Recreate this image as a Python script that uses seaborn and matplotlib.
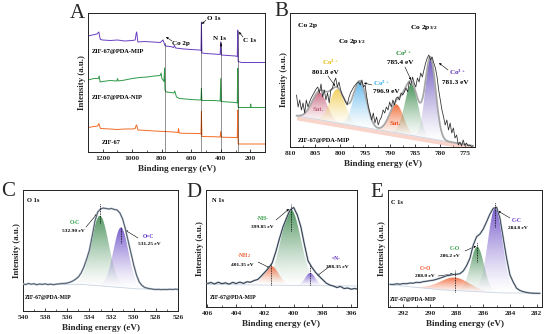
import numpy as np
import matplotlib
matplotlib.use('Agg')
import matplotlib.pyplot as plt
import matplotlib.colors as mcolors
from matplotlib.ticker import MultipleLocator
import seaborn as sns

# ---------- DATA ----------
# A: survey spectra
mip_e = [1300, 1270, 1240, 1226, 1222, 1216, 1200, 1150, 1100, 1050, 1000, 980, 974, 970, 962, 920, 860, 810,
         792, 786, 780, 774, 740, 720, 714, 706, 650, 600, 545, 534, 531, 528, 500, 450, 404, 400, 396, 350,
         300, 288, 285, 282, 260, 200, 100]
mip_i = [116, 117, 118, 120, 116, 112.5, 112, 111.5, 112, 111, 111.5, 112, 118, 120, 110, 110.5, 110, 109.5,
         112, 110, 107, 106, 105.5, 104.5, 106.5, 104, 103, 102.5, 102, 101.5, 130, 99, 98.5, 98, 97.5, 110,
         97, 96.5, 96, 95.5, 122, 90.5, 89.5, 89.5, 89.5]
nip_e = [1300, 1260, 1230, 1224, 1218, 1200, 1150, 1105, 1100, 1095, 1050, 1000, 950, 900, 850, 810, 804,
         800, 796, 785, 781, 778, 770, 740, 718, 712, 700, 680, 600, 545, 534, 531, 528, 450, 404, 400, 397,
         350, 300, 288, 285, 282, 250, 200, 197, 194, 150, 100]
nip_i = [72, 73.5, 73.5, 76, 70, 70.5, 71.5, 71, 73.5, 71, 72, 73.5, 74.5, 75, 76, 76.5, 79, 74, 73, 70.5,
         84, 62, 60, 59.5, 59, 61, 55, 53.5, 52.5, 52, 52, 63.5, 51.5, 51.5, 51, 73.5, 50.5, 50, 49.5, 49,
         83.5, 44.5, 44.5, 44.5, 48, 44.5, 44.5, 44.5]
zif_e = [1300, 1260, 1235, 1226, 1222, 1215, 1150, 1100, 1050, 1000, 980, 974, 970, 962, 900, 850, 780, 720,
         690, 686, 682, 650, 545, 534, 531, 528, 450, 404, 400, 396, 300, 288, 285, 282, 200, 100]
zif_i = [24.5, 25.5, 26, 28.5, 26, 23.5, 23, 22.5, 23, 23, 23.5, 26.5, 27, 22, 21.5, 21, 20.5, 20, 19.5,
         23.5, 19, 18.7, 18.5, 18, 40.5, 15.5, 15.3, 15, 20.5, 14.8, 14.5, 14.3, 42, 8, 8, 8]
survey_lines = [780, 531, 400, 285]
survey_tops = [110, 130, 110, 122]

# B: Co 2p
co_counts = [52, 40, 47, 37, 44, 34, 47, 40, 45, 49, 52, 55, 58, 60, 54, 63, 50, 57, 47, 54, 44, 57, 59,
             65, 69, 60, 65, 57, 52, 49, 45, 42, 49, 54, 57, 60, 62, 64, 65, 62, 67, 60, 62, 50, 40, 34,
             27, 34, 24, 30, 22, 27, 30, 37, 34, 40, 37, 45, 40, 47, 42, 49, 50, 47, 54, 52, 55, 59, 55,
             65, 62, 70, 64, 60, 69, 65, 74, 70, 77, 84, 89, 92, 87, 90, 84, 79, 70, 57, 47, 37, 30, 22,
             27, 17, 24, 14, 19, 9, 12, 2, 5, 1, 7, 1.5, 4, 1, 2, 0.5, 1]
co_bg_e = [773.0, 810.0]
co_bg_i = [0.8, 32.2]
co_cen = [804.1, 800.5, 796.0, 788.7, 785.7, 781.9]
co_amp = [27.5, 33.8, 45.5, 28.5, 51.0, 80.7]
co_sig = [1.5, 1.5, 1.3, 1.4, 1.35, 1.05]
co_col = ['#c8607a', '#f2cc50', '#4fb0ea', '#f0622a', '#3a8a4a', '#6048b8']

# C: O 1s
o_counts = [27, 26.5, 27.5, 26.8, 27.3, 26.2, 27, 26.6, 27.2, 26.4, 26.9, 26.3, 26.8, 27.1, 27.4, 27.6, 28,
            28.8, 30, 31.8, 34, 38, 44, 52, 61, 75, 90, 99, 102, 103, 102.5, 102, 102.5,
            101.5, 101, 98, 92, 82, 70, 58, 46, 36, 29, 25.5, 23.5, 22.8, 22.2, 21.8, 21.5,
            21.7, 21.3, 21.6, 21.4, 21.8, 21.5, 21.9, 21.6]
o_bg_e = [526, 529.5, 534.5, 540]
o_bg_i = [21.5, 22, 26.5, 27]
o_cen = [533.05, 531.15]
o_amp = [70, 60]
o_sig = [0.8, 0.68]
o_col = ['#3e8a50', '#6a4cc8']
o_dash = [(107, 88), (84, 68)]

# D: N 1s
n_counts = [23.5, 24.5, 23, 24.8, 23.3, 24.2, 22.8, 24.6, 23.5, 24.9, 23.6, 25.2, 24.8, 26.5, 27.5, 31, 35,
            39, 44, 55, 68, 80, 89, 97, 99.5, 92, 80, 62, 46, 40, 35, 31, 27.5, 24, 22, 21, 19.5, 20.5,
            18.5, 19, 17.8, 18.5, 17.5]
n_bg_e = [395.5, 406]
n_bg_i = [21, 22.5]
n_cen = [400.2, 401.55, 398.85]
n_amp = [76, 19, 12.5]
n_sig = [0.7, 0.5, 0.35]
n_col = ['#3e8a50', '#f06030', '#7050d0']
n_dash = [(103, 76), (43, 22), (42, 22)]

# E: C 1s
c_counts = [22.7, 22.5, 23.2, 22.8, 23.4, 23.2, 24, 23.8, 24.7, 24.5, 25.3, 25.8, 26.3, 26.8, 27.7, 28.8,
            30, 31.2, 31.7, 32.5, 32.7, 33.3, 36, 41.3, 48.7, 62, 70.3, 73, 78, 85.3, 93, 98.7, 99.7,
            88.7, 68.7, 48.7, 32, 24.7, 18.7, 16.5, 15.3, 14.6, 14, 13.8, 13.7, 13.7]
c_bg_e = [281.6, 284.5, 289, 293.2]
c_bg_i = [13.7, 14, 17, 22.5]
c_cen = [285.1, 286.45, 288.15]
c_amp = [85, 45, 13]
c_sig = [0.55, 0.5, 1.1]
c_col = ['#6a4cc8', '#3e8a50', '#f06030']
c_dash = [(105, 80), (65, 45), (37, 15)]

# ---------- STYLE ----------
sns.set_style('ticks')
plt.rcParams['font.family'] = ['Liberation Serif', 'DejaVu Serif']
plt.rcParams['font.weight'] = 'bold'
plt.rcParams['axes.labelweight'] = 'bold'
plt.rcParams['mathtext.fontset'] = 'custom'
plt.rcParams['mathtext.rm'] = 'Liberation Serif:bold'
plt.rcParams['mathtext.default'] = 'rm'

W, H = 550, 334
fig = plt.figure(figsize=(5.5, 3.34), dpi=100)

GREEN, PURPLE, ORANGE = '#2a9a40', '#5a30c0', '#f05020'


def rect(l, t, r, b):
    return [l / W, 1 - b / H, (r - l) / W, (b - t) / H]


def ftxt(x, y, s, size=4.5, color='black', ha='left', **kw):
    fig.text(x / W, 1 - y / H, s, fontsize=size, color=color, ha=ha, va='center', fontweight='bold', **kw)


def arrow(ax, x0, y0, x1, y1):
    ax.annotate('', xy=(x1, H - y1), xytext=(x0, H - y0), xycoords='figure pixels',
                textcoords='figure pixels',
                arrowprops=dict(arrowstyle='-|>', lw=0.4, color='black', mutation_scale=3,
                                shrinkA=0, shrinkB=0))


def grad_fill(ax, x, lo, hi, color, z=2):
    poly = ax.fill_between(x, lo, hi, facecolor='none', edgecolor='none')
    img = np.zeros((80, 1, 4))
    img[..., :3] = mcolors.to_rgb(color)
    img[..., 3] = (np.linspace(0, 1, 80) ** 1.3 * 0.9)[:, None]
    im = ax.imshow(img, extent=[x.min(), x.max(), lo.min(), hi.max()], origin='lower',
                   aspect='auto', zorder=z, interpolation='bilinear')
    im.set_clip_path(poly.get_paths()[0], poly.get_transform())


def style(ax, xlim, ylim, major, minor):
    ax.set_xlim(*xlim)
    ax.set_ylim(*ylim)
    ax.set_yticks([])
    ax.xaxis.set_major_locator(MultipleLocator(major))
    ax.xaxis.set_minor_locator(MultipleLocator(minor))
    ax.tick_params(axis='x', which='major', direction='in', length=2.2, width=0.6, labelsize=5.4, pad=3)
    ax.tick_params(axis='x', which='minor', direction='in', length=1.2, width=0.5)
    for lab in ax.get_xticklabels():
        lab.set_fontweight('bold')
    for sp in ax.spines.values():
        sp.set_linewidth(0.7)
        sp.set_color('#222222')
    ax.set_xlabel('Binding energy (eV)', fontsize=6.6, labelpad=2.5)
    ax.set_ylabel('Intensity (a.u.)', fontsize=6.4, labelpad=1.5)


def fit_panel(ax, e_counts, counts, bg_e, bg_i, cen, amp, sig, cols, raw_col, env_col, env_from_fit=False):
    grid = np.linspace(min(e_counts), max(e_counts), 600)
    bg = np.interp(grid, bg_e, bg_i)
    total = bg.copy()
    for c, a, s, col in zip(cen, amp, sig, cols):
        comp = a * np.exp(-(grid - c) ** 2 / (2 * s ** 2))
        total += comp
        m = comp > 0.2
        grad_fill(ax, grid[m], bg[m], bg[m] + comp[m], col)
    sns.lineplot(x=grid, y=bg, ax=ax, color='#c9d4e2', lw=0.6, sort=False, estimator=None, zorder=3)
    if env_from_fit:
        sns.lineplot(x=grid, y=total, ax=ax, color=env_col, lw=1.3, sort=False, estimator=None, zorder=4)
    else:
        sns.lineplot(x=e_counts, y=counts, ax=ax, color=env_col, lw=1.4, sort=False, estimator=None, zorder=4)
    sns.lineplot(x=e_counts, y=counts, ax=ax, color=raw_col, lw=0.55, sort=False, estimator=None, zorder=5)
    return grid, bg


# ---------- A: survey ----------
axA = fig.add_axes(rect(88, 13, 265, 152))
for e, i, col in [(mip_e, mip_i, '#6a3fc0'), (nip_e, nip_i, '#2e9a48'), (zif_e, zif_i, '#f26b22')]:
    sns.lineplot(x=e, y=i, ax=axA, color=col, lw=0.7, sort=False, estimator=None)
axA.vlines(survey_lines, 0, survey_tops, colors='black', linestyles=(0, (1.2, 1.2)), lw=0.6, zorder=5)
style(axA, (1300, 100), (0, 139), 200, 100)
ftxt(92, 52, 'ZIF-67@PDA-MIP', 4.6)
ftxt(92, 97, 'ZIF-67@PDA-NIP', 4.6)
ftxt(102, 142, 'ZIF-67', 4.6)
ftxt(172, 44, 'Co 2p', 5)
ftxt(207, 19, 'O 1s', 5)
ftxt(213, 38, 'N 1s', 5)
ftxt(243, 41, 'C 1s', 5)
arrow(axA, 172, 41, 166, 37)
arrow(axA, 206, 20, 202, 24)
arrow(axA, 221, 42, 221, 47)
arrow(axA, 243, 37, 239, 32)

# ---------- B: Co 2p ----------
axB = fig.add_axes(rect(290, 13, 475, 147))
co_e = np.linspace(808.7, 773.4, len(co_counts))
grid, bg = fit_panel(axB, co_e, co_counts, co_bg_e, co_bg_i, co_cen, co_amp, co_sig, co_col,
                     '#2a2a2a', '#a8a8a8', env_from_fit=True)
axB.fill_between(grid, bg - 4, bg, color='#f2a08a', alpha=0.45, lw=0, zorder=1)
style(axB, (810, 773), (0, 134), 5, 2.5)
ftxt(298, 25, 'Co 2p', 5.4)
ftxt(338, 42, 'Co 2p$_{1/2}$', 5.4)
ftxt(410, 28, 'Co 2p$_{3/2}$', 5.4)
ftxt(322, 62, 'Co$^{3+}$', 5.2, '#e6b800')
ftxt(312, 72, '801.8 eV', 5.2)
ftxt(373, 83, 'Co$^{3+}$', 5.2, '#38a8e8')
ftxt(373, 92, '796.9 eV', 5.2)
ftxt(395, 53, 'Co$^{2+}$', 5.2, '#2a8a3a')
ftxt(387, 63, '785.4 eV', 5.2)
ftxt(449, 72, 'Co$^{3+}$', 5.2, PURPLE)
ftxt(442, 82, '781.3 eV', 5.2)
ftxt(313, 109, 'Sat.', 5, '#c06080')
ftxt(390, 123, 'Sat.', 5, ORANGE)
ftxt(298, 141, 'ZIF-67@PDA-MIP', 4.6)
arrow(axB, 328, 76, 335, 86)
arrow(axB, 372, 85, 364, 83)
arrow(axB, 405, 67, 411, 80)
arrow(axB, 448, 70, 439, 63)

# ---------- C: O 1s ----------
axC = fig.add_axes(rect(23, 190, 178, 311))
o_e = np.linspace(540, 526, len(o_counts))
fit_panel(axC, o_e, o_counts, o_bg_e, o_bg_i, o_cen, o_amp, o_sig, o_col, '#4a4a4a', '#a9bcd2')
axC.vlines(o_cen, [d[1] for d in o_dash], [d[0] for d in o_dash], colors='black',
           linestyles=(0, (1, 1)), lw=0.6, zorder=6)
style(axC, (540, 526), (0, 121), 2, 1)
ftxt(27, 201, 'O 1s', 4.6)
ftxt(70, 222, 'O-C', 4, GREEN)
ftxt(62, 231, '532.90 eV', 3.9)
ftxt(143, 236, 'O=C', 4, PURPLE)
ftxt(138, 244, '531.25 eV', 3.9)
ftxt(25, 298, 'ZIF-67@PDA-MIP', 4.1)
arrow(axC, 86, 227, 97, 214)
arrow(axC, 138, 238, 125, 230)

# ---------- D: N 1s ----------
axD = fig.add_axes(rect(206, 190, 357, 307))
n_e = np.linspace(406, 395.5, len(n_counts))
fit_panel(axD, n_e, n_counts, n_bg_e, n_bg_i, n_cen, n_amp, n_sig, n_col, '#222222', '#a9bcd2')
axD.vlines(n_cen, [d[1] for d in n_dash], [d[0] for d in n_dash], colors='black',
           linestyles=(0, (1, 1)), lw=0.6, zorder=6)
style(axD, (406.1, 395.6), (0, 117), 2, 1)
ftxt(212, 201, 'N 1s', 4.6)
ftxt(257, 218, '-NH-', 4, GREEN)
ftxt(251, 227, '399.85 eV', 3.9)
ftxt(237, 256, '-NH$_2$', 4, ORANGE)
ftxt(231, 265, '401.35 eV', 3.9)
ftxt(332, 258, '=N-', 4, PURPLE)
ftxt(326, 267, '398.35 eV', 3.9)
ftxt(210, 297, 'ZIF-67@PDA-MIP', 4.1)
arrow(axD, 276, 220, 289, 209)
arrow(axD, 258, 262, 270, 268)
arrow(axD, 330, 266, 317, 276)

# ---------- E: C 1s ----------
axE = fig.add_axes(rect(388, 190, 542, 307))
c_e = np.linspace(293, 281.75, len(c_counts))
fit_panel(axE, c_e, c_counts, c_bg_e, c_bg_i, c_cen, c_amp, c_sig, c_col, '#333333', '#a9bcd2')
axE.vlines(c_cen, [d[1] for d in c_dash], [d[0] for d in c_dash], colors='black',
           linestyles=(0, (1, 1)), lw=0.6, zorder=6)
style(axE, (293.14, 281.6), (0, 117), 2, 1)
ftxt(391, 202, 'C 1s', 4.6)
ftxt(512, 220, 'C-C', 4, PURPLE)
ftxt(508, 228, '284.8 eV', 3.9)
ftxt(450, 248, 'C-O', 4, GREEN)
ftxt(440, 256, '286.2 eV', 3.9)
ftxt(420, 268, 'C=O', 4, ORANGE)
ftxt(415, 276, '288.0 eV', 3.9)
ftxt(390, 300, 'ZIF-67@PDA-MIP', 4.1)
arrow(axE, 510, 218, 498, 211)
arrow(axE, 465, 251, 476, 246)
arrow(axE, 438, 276, 453, 274)

# ---------- panel letters ----------
for x, y, s in [(77.5, 14, 'A'), (281, 12, 'B'), (8.5, 192, 'C'), (194, 193, 'D'), (377, 193, 'E')]:
    fig.text(x / W, 1 - y / H, s, fontsize=15, ha='center', va='center', fontweight='normal')

fig.savefig('out.png', dpi=100)
